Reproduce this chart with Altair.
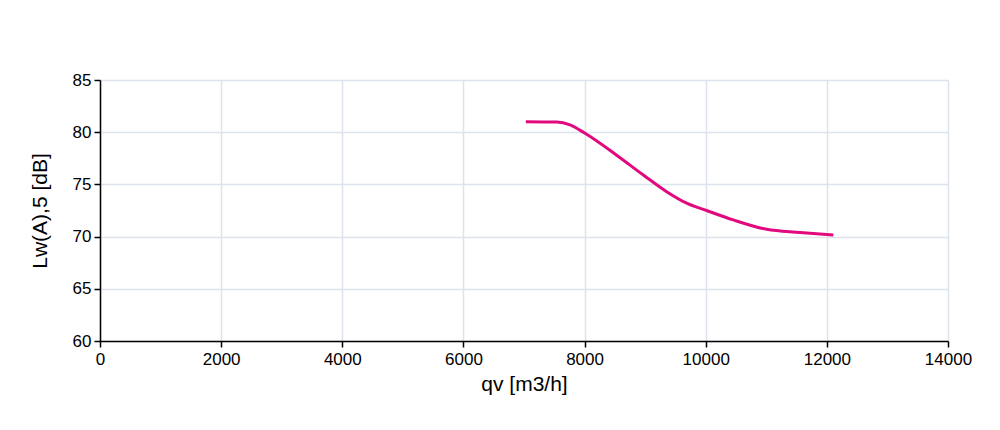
import altair as alt
import pandas as pd

qv = [7030, 7540, 7760, 8007, 8530, 8970, 9355, 9685, 10015, 10455, 11005, 11557, 12107]
lw = [81.0, 80.97, 80.7, 79.9, 77.8, 75.9, 74.3, 73.2, 72.5, 71.6, 70.7, 70.4, 70.15]

x_ticks = [0, 2000, 4000, 6000, 8000, 10000, 12000, 14000]
y_ticks = [60, 65, 70, 75, 80, 85]

df = pd.DataFrame({"qv": qv, "lw": lw})

FONT = "Liberation Sans"

chart = alt.Chart(df).mark_line(
    color="#e2097f", strokeWidth=3, interpolate="monotone"
).encode(
    x=alt.X("qv:Q", title="qv [m3/h]",
            scale=alt.Scale(domain=[0, 14000], nice=False, zero=False),
            axis=alt.Axis(values=x_ticks, format="d", labelFlush=False,
                          labelPadding=4, titlePadding=6)),
    y=alt.Y("lw:Q", title="Lw(A),5 [dB]",
            scale=alt.Scale(domain=[60, 85], nice=False, zero=False),
            axis=alt.Axis(values=y_ticks, format="d", labelPadding=3, titlePadding=22)),
).properties(
    width=848, height=261,
    autosize=alt.AutoSizeParams(type="none"),
    padding={"left": 92, "top": 72, "right": 40, "bottom": 60},
).configure_view(
    stroke=None
).configure_axis(
    grid=True, gridColor="#dde3ec", gridWidth=1.5,
    domainColor="#000000", domainWidth=1.5,
    tickColor="#000000", tickSize=6, tickWidth=1.5,
    labelFont=FONT, labelFontSize=17, labelColor="#000000",
    titleFont=FONT, titleFontSize=21, titleColor="#000000", titleFontWeight="normal",
)

chart.save("out.html", embed_options={"renderer": "svg", "actions": False})
